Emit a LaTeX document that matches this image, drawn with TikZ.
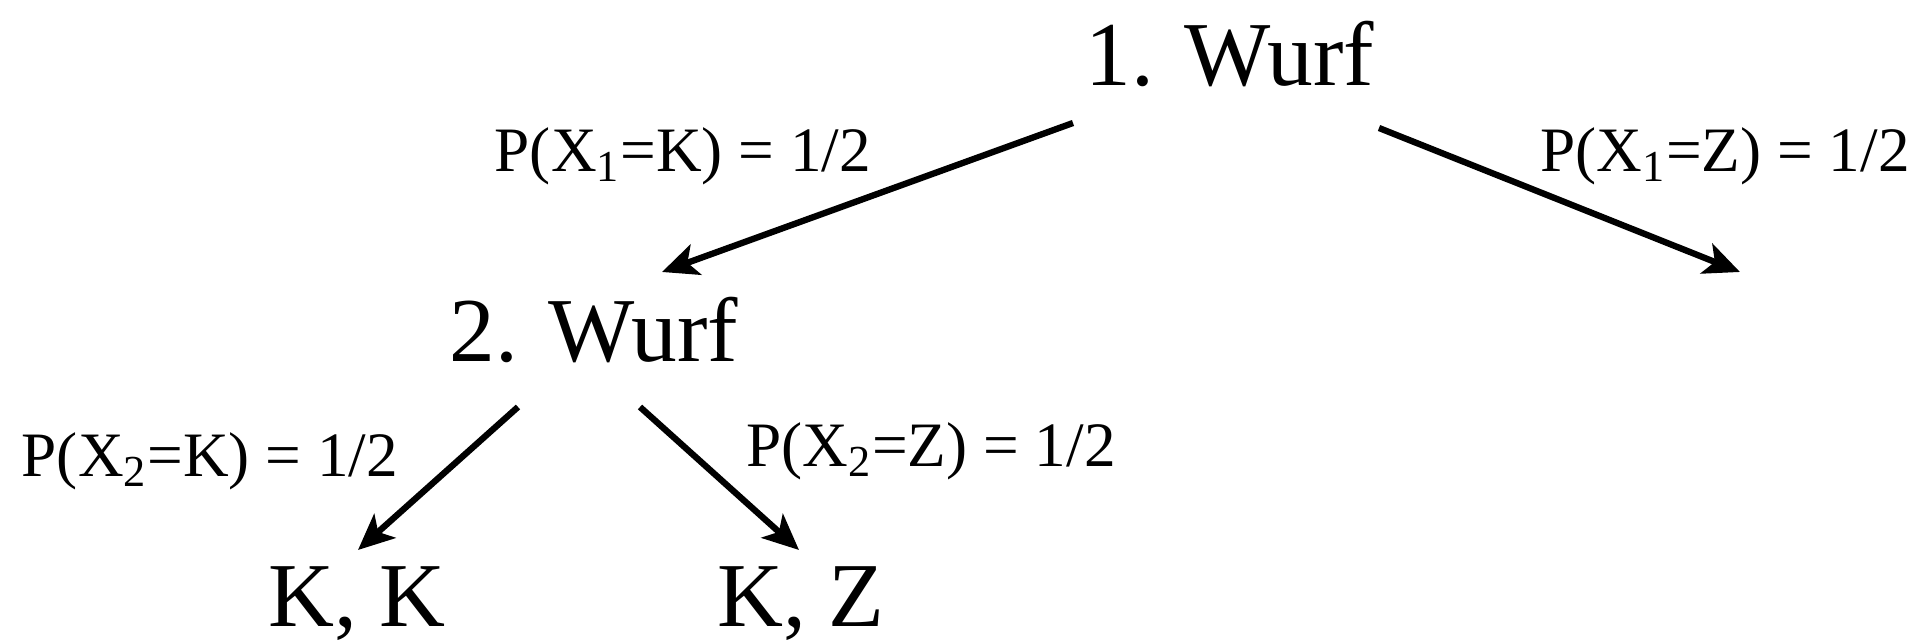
\documentclass[tikz,border=0pt]{standalone}
\usepackage{fontspec}
\setmainfont{Liberation Serif}
\usetikzlibrary{arrows.meta,calc}
\tikzset{
  wurf/.style={font=\fontsize{26}{28}\selectfont,anchor=base,inner sep=0pt},
  prob/.style={font=\fontsize{18}{20}\selectfont,anchor=base,inner sep=0pt},
  arr/.style={-{Stealth[length=3.6mm,width=3.2mm,inset=0.9mm]},draw=black,line width=1.8pt}
}
\begin{document}
\begin{tikzpicture}[x=1cm,y=1cm]
\path[use as bounding box] (0,0) rectangle (19.21,6.41);
% throws
\node[wurf] (w1) at (12.30,5.55) {1. Wurf};
\node[wurf] (w2) at (5.94,2.79) {2. Wurf};
\node[wurf] (kk) at (3.57,0.14) {K, K};
\node[wurf] (kz) at (8.01,0.14) {K, Z};
\coordinate (zend) at (17.40,3.69);
% probabilities
\node[prob] (p1k) at (6.83,4.69) {P(X\textsubscript{1}=K) = 1/2};
\node[prob] (p1z) at (17.25,4.69) {P(X\textsubscript{1}=Z) = 1/2};
\node[prob] (p2k) at (2.10,1.64) {P(X\textsubscript{2}=K) = 1/2};
\node[prob] (p2z) at (9.31,1.74) {P(X\textsubscript{2}=Z) = 1/2};
% branches
\draw[arr] ($(w1.base)+(-1.57,-0.37)$) -- ($(w2.base)+(0.68,0.90)$);
\draw[arr] ($(w1.base)+(1.49,-0.42)$) -- (zend);
\draw[arr] ($(w2.base)+(-0.76,-0.45)$) -- ($(kk.base)+(0.01,0.77)$);
\draw[arr] ($(w2.base)+(0.46,-0.45)$) -- ($(kz.base)+(-0.02,0.77)$);
\end{tikzpicture}
\end{document}
